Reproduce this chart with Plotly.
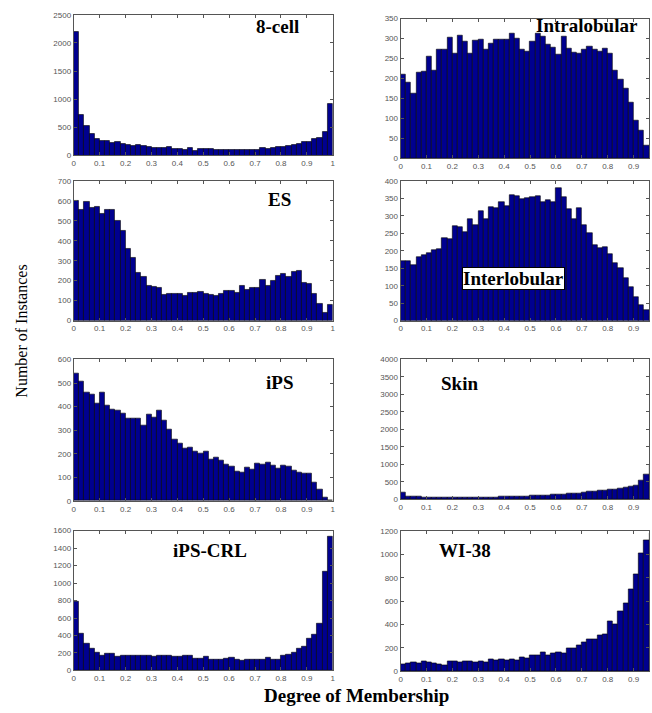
import numpy as np
import plotly.graph_objects as go

# ---- data: 50 bins on [0, 1] ----
n_bins = 50
bin_edges = np.linspace(0, 1, n_bins + 1)

cell8 = [2200, 720, 520, 390, 290, 265, 255, 225, 235, 200,
         180, 165, 185, 170, 155, 135, 140, 140, 155, 115,
         110, 100, 130, 85, 110, 110, 110, 100, 100, 90,
         90, 105, 105, 100, 90, 105, 130, 110, 140, 155,
         150, 170, 190, 205, 235, 240, 300, 320, 420, 920]
intralobular = [210, 190, 162, 215, 218, 255, 220, 272, 272, 303,
                262, 308, 292, 262, 295, 297, 272, 287, 298, 297,
                298, 312, 300, 272, 268, 293, 313, 305, 285, 278,
                260, 305, 275, 265, 262, 273, 280, 272, 268, 275,
                262, 220, 198, 175, 140, 95, 68, 32, 15, 5]
es = [600, 555, 595, 565, 570, 535, 555, 555, 500, 450,
      360, 315, 240, 220, 175, 170, 165, 130, 133, 135,
      137, 123, 140, 140, 143, 133, 130, 125, 135, 150,
      150, 140, 173, 155, 165, 165, 205, 175, 198, 225,
      235, 218, 245, 250, 190, 185, 135, 85, 40, 80]
interlobular = [172, 170, 158, 182, 187, 195, 203, 205, 237, 235,
                270, 268, 255, 290, 275, 313, 292, 325, 322, 340,
                328, 360, 357, 348, 350, 355, 358, 340, 345, 340,
                380, 355, 320, 292, 322, 275, 250, 218, 208, 210,
                190, 165, 150, 123, 97, 68, 45, 30, 12, 4]
ips = [540, 505, 460, 450, 415, 458, 403, 388, 383, 370,
       348, 350, 348, 322, 365, 355, 385, 340, 303, 262,
       245, 222, 227, 210, 202, 212, 175, 185, 170, 155,
       145, 123, 122, 140, 135, 160, 155, 165, 150, 138,
       150, 145, 130, 122, 118, 115, 78, 48, 15, 0]
skin = [210, 95, 80, 70, 65, 65, 65, 65, 60, 60,
        55, 55, 55, 60, 60, 55, 60, 65, 65, 70,
        80, 85, 90, 90, 95, 100, 105, 110, 120, 135,
        145, 150, 160, 170, 180, 195, 215, 230, 255, 265,
        275, 280, 300, 330, 360, 410, 540, 720, 1000, 3700]
ips_crl = [790, 425, 310, 245, 200, 170, 195, 195, 155, 170,
           165, 170, 165, 175, 170, 160, 165, 175, 170, 155,
           155, 175, 165, 140, 140, 160, 120, 130, 120, 135,
           150, 125, 110, 125, 130, 125, 130, 150, 120, 120,
           175, 185, 210, 250, 275, 365, 410, 540, 1130, 1530]
wi38 = [60, 70, 78, 72, 88, 75, 72, 62, 55, 85,
        88, 78, 83, 83, 75, 82, 78, 98, 92, 100,
        90, 102, 95, 118, 110, 135, 140, 165, 140, 155,
        160, 155, 195, 200, 220, 250, 270, 275, 305, 320,
        430, 405, 510, 580, 700, 830, 1015, 1120, 1180, 1190]

x_tick_vals = [0, 0.1, 0.2, 0.3, 0.4, 0.5, 0.6, 0.7, 0.8, 0.9, 1]
x_tick_text = ["0", "0.1", "0.2", "0.3", "0.4", "0.5", "0.6", "0.7", "0.8", "0.9", "1"]

# panels: (name, values, ymax, ystep, column, pixel top, pixel bottom, label px x, label px y)
panels = [
    ("8-cell", cell8, 2500, 500, 0, 11, 153.3, 278, 23),
    ("Intralobular", intralobular, 350, 50, 1, 14.7, 156, 590, 22),
    ("ES", es, 700, 100, 0, 179, 320.7, 280, 198),
    ("Interlobular", interlobular, 400, 50, 1, 179.3, 320.7, 515, 278),
    ("iPS", ips, 600, 100, 0, 360, 503.3, 280, 383),
    ("Skin", skin, 4000, 500, 1, 360, 501.7, 461, 384),
    ("iPS-CRL", ips_crl, 1600, 200, 0, 533.3, 675, 210, 553),
    ("WI-38", wi38, 1200, 200, 1, 534, 675.7, 467, 553),
]

W, H = 652, 713
col_px = [(72.3, 333.3), (401.7, 652.0)]
col_range = [(0, 1), (0, 0.9595)]

centers = (bin_edges[:-1] + bin_edges[1:]) / 2
widths = np.diff(bin_edges)

fig = go.Figure()
layout_axes = {}
annotations = []
for i, (name, vals, ymax, ystep, col, ptop, pbot, lx, ly) in enumerate(panels):
    k = i + 1
    xa = "x" if k == 1 else f"x{k}"
    ya = "y" if k == 1 else f"y{k}"
    fig.add_trace(go.Bar(
        x=centers, y=vals, width=widths,
        marker=dict(color="#00008F", line=dict(color="black", width=0.6)),
        xaxis=xa, yaxis=ya, showlegend=False,
    ))
    x0, x1 = col_px[col]
    common = dict(showgrid=False, zeroline=False, showline=True, linecolor="#555",
                  linewidth=1, mirror="ticks", ticks="inside", ticklen=3,
                  tickcolor="#555", tickfont=dict(family="Arial", size=8, color="#555"))
    layout_axes[f"xaxis{'' if k == 1 else k}"] = dict(
        domain=[x0 / W, x1 / W], range=list(col_range[col]), anchor=ya,
        tickvals=x_tick_vals, ticktext=x_tick_text, **common)
    layout_axes[f"yaxis{'' if k == 1 else k}"] = dict(
        domain=[1 - pbot / H, 1 - ptop / H], range=[0, ymax], anchor=xa,
        tickvals=list(range(0, ymax + 1, ystep)), **common)
    ann = dict(text=f"<b>{name}</b>", x=lx / W, y=1 - ly / H, xref="paper", yref="paper",
               xanchor="center", yanchor="middle", showarrow=False,
               font=dict(family="Liberation Serif", size=19, color="black"))
    if name == "Interlobular":
        ann.update(bgcolor="white", bordercolor="black", borderwidth=1, borderpad=0)
    annotations.append(ann)

annotations.append(dict(text="Number of Instances", x=20 / W, y=1 - 331 / H, xref="paper", yref="paper",
                        xanchor="center", yanchor="middle", showarrow=False, textangle=-90,
                        font=dict(family="Liberation Serif", size=16, color="black")))
annotations.append(dict(text="<b>Degree of Membership</b>", x=357 / W, y=1 - 700 / H, xref="paper",
                        yref="paper", xanchor="center", yanchor="middle", showarrow=False,
                        font=dict(family="Liberation Serif", size=19, color="black")))

fig.update_layout(
    width=W, height=H, margin=dict(l=0, r=0, t=0, b=0),
    paper_bgcolor="white", plot_bgcolor="white",
    bargap=0, annotations=annotations, **layout_axes,
)
fig.write_html("out.html")
